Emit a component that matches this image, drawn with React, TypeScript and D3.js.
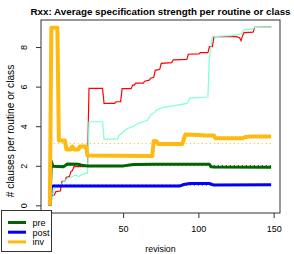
import React from 'react';
import * as d3 from 'd3';

// revision, value pairs (steps kept as their end points)
const pre: [number, number][] = [
  [1, 0], [2, 2.25], [3, 2.0], [10, 1.98], [12, 2.08], [13, 2.12], [20, 2.1], [22, 2.05],
  [26, 2.02], [50, 2.02], [54, 2.06], [57, 2.09], [70, 2.1], [107, 2.1], [108, 1.98],
  [110, 1.96], [148, 1.95]
];

const post: [number, number][] = [
  [1, 0], [2, 0.97], [3, 1.0], [87, 1.0], [90, 1.08], [94, 1.13], [107, 1.13],
  [110, 1.05], [148, 1.06]
];

const inv: [number, number][] = [
  [1, 0], [2, 9.0], [6, 9.0], [7, 3.3], [11, 3.3], [12, 2.85], [15, 2.85], [16, 3.0],
  [17, 2.85], [20, 2.85], [21, 3.0], [25, 3.0], [26, 2.55], [69, 2.52], [70, 3.28],
  [72, 3.25], [73, 3.13], [89, 3.13], [91, 3.6], [100, 3.58], [104, 3.55], [110, 3.55],
  [111, 3.42], [129, 3.42], [131, 3.48], [134, 3.5], [148, 3.5]
];

// the two thin unlabelled lines
const redLine: [number, number][] = [
  [1, 0], [2, 0.5], [4, 0.55], [5, 0.72], [8, 0.75], [9, 1.22], [11, 1.26], [12, 1.45],
  [14, 1.48], [15, 1.73], [16, 1.78], [17, 1.98], [26, 1.98], [27, 5.94], [36, 5.94],
  [37, 5.18], [44, 5.18], [45, 5.26], [48, 5.26], [49, 5.92], [55, 5.92], [56, 6.1],
  [57, 6.1], [58, 6.2], [63, 6.2], [64, 6.3], [67, 6.35], [68, 6.45], [70, 6.5],
  [71, 6.85], [74, 6.9], [75, 7.2], [82, 7.24], [83, 7.38], [92, 7.4], [93, 7.66],
  [100, 7.68], [101, 7.74], [106, 7.74], [107, 8.05], [109, 8.05], [110, 8.55],
  [125, 8.55], [127, 8.5], [128, 8.35], [129, 8.6], [130, 8.75], [136, 8.78],
  [137, 9.02], [148, 9.03]
];

const aquaLine: [number, number][] = [
  [1, 0], [3, 0.45], [4, 0.89], [7, 0.95], [8, 1.0], [10, 1.22], [13, 1.39], [16, 1.48],
  [18, 1.56], [20, 1.48], [22, 1.56], [25, 1.65], [26, 1.65], [27, 4.25], [36, 4.25],
  [37, 3.37], [46, 3.37], [47, 3.58], [49, 3.67], [51, 3.83], [53, 3.92], [56, 4.0],
  [60, 4.17], [63, 4.25], [66, 4.34], [68, 4.59], [71, 4.76], [72, 4.84], [76, 4.98],
  [83, 5.05], [92, 5.18], [94, 5.44], [106, 5.5], [107, 7.54], [108, 8.0], [109, 8.55],
  [122, 8.6], [128, 8.69], [130, 8.89], [136, 8.94], [137, 9.02], [148, 9.02]
];

// dotted mean lines
const meanNames = ['pre', 'post', 'inv'];
const meanValues = [2.04, 1.05, 3.15];

const legendNames = ['pre', 'post', 'inv'];
const colors: Record<string, string> = {
  pre: '#006400',
  post: '#0000FF',
  inv: '#FFB90F'
};

// the 0 tick sits under the legend in the original
const xTicks = [50, 100, 150];
const yTicks = [0, 2, 4, 6, 8];

const W = 294;
const H = 254;
const plot = { left: 41, right: 280, top: 20, bottom: 213 };
const FONT = '"Liberation Sans", Arial, Helvetica, sans-serif';

export default function App() {
  const all = [...pre, ...post, ...inv, ...redLine, ...aquaLine];
  const [x0, x1] = d3.extent(all, d => d[0]) as [number, number];
  const [y0, y1] = d3.extent(all, d => d[1]) as [number, number];
  const xPad = (x1 - x0) * 0.04;
  const yPad = (y1 - y0) * 0.04;

  const x = d3.scaleLinear().domain([x0 - xPad, x1 + xPad]).range([plot.left, plot.right]);
  const y = d3.scaleLinear().domain([y0 - yPad, y1 + yPad]).range([plot.bottom, plot.top]);

  const line = d3.line<[number, number]>().x(d => x(d[0])).y(d => y(d[1]));

  const thick: { data: [number, number][]; color: string; width: number }[] = [
    { data: pre, color: colors.pre, width: 3 },
    { data: post, color: colors.post, width: 3 },
    { data: inv, color: colors.inv, width: 4 }
  ];

  return (
    <svg width={W} height={H} style={{ position: 'absolute', left: 0, top: 0, background: '#fff' }}
      fontFamily={FONT}>
      <rect x={0} y={0} width={W} height={H} fill="#fff" />

      {/* title */}
      <text x={(plot.left + plot.right) / 2} y={14.5} textAnchor="middle" fontSize={9.8}
        fontWeight="bold" fill="#000">
        Rxx: Average specification strength per routine or class
      </text>

      {/* thin lines */}
      <path d={line(redLine) ?? ''} fill="none" stroke="#FF0000" strokeWidth={1.2} />
      <path d={line(aquaLine) ?? ''} fill="none" stroke="#7FFFD4" strokeWidth={1.2} />

      {/* mean lines */}
      {meanNames.map((n, i) => (
        <line key={n} x1={x(x0)} x2={x(x1)} y1={y(meanValues[i])} y2={y(meanValues[i])}
          stroke={colors[n]} strokeWidth={1} strokeDasharray="1 3" />
      ))}

      {/* thick series */}
      {thick.map((s, i) => (
        <path key={i} d={line(s.data) ?? ''} fill="none" stroke={s.color}
          strokeWidth={s.width} strokeLinejoin="round" />
      ))}

      {/* box */}
      <rect x={plot.left} y={plot.top} width={plot.right - plot.left}
        height={plot.bottom - plot.top} fill="none" stroke="#333" strokeWidth={1} />

      {/* y axis */}
      {yTicks.map(t => (
        <g key={t}>
          <line x1={plot.left - 5} x2={plot.left} y1={y(t)} y2={y(t)} stroke="#333" />
          <text transform={`translate(27,${y(t)}) rotate(-90)`} textAnchor="middle"
            fontSize={9} fill="#000">{t}</text>
        </g>
      ))}
      <text transform={`translate(13.5,131) rotate(-90)`}
        textAnchor="middle" fontSize={10.2} fill="#000">
        # clauses per routine or class
      </text>

      {/* x axis */}
      {xTicks.map(t => (
        <g key={t}>
          <line x1={x(t)} x2={x(t)} y1={plot.bottom} y2={plot.bottom + 5} stroke="#333" />
          <text x={x(t)} y={232} textAnchor="middle" fontSize={9} fill="#000">{t}</text>
        </g>
      ))}
      <text x={(plot.left + plot.right) / 2} y={252} textAnchor="middle" fontSize={8.8}
        fill="#000">revision</text>

      {/* legend */}
      <g>
        <rect x={1.5} y={210.5} width={50} height={41} fill="#fff" stroke="#333" />
        {legendNames.map((n, i) => (
          <g key={n} transform={`translate(0,${222.5 + i * 9.7})`}>
            <line x1={8} x2={26} y1={0} y2={0} stroke={colors[n]} strokeWidth={3} />
            <text x={32.5} y={3.3} fontSize={9} fill="#000">{n}</text>
          </g>
        ))}
      </g>
    </svg>
  );
}
